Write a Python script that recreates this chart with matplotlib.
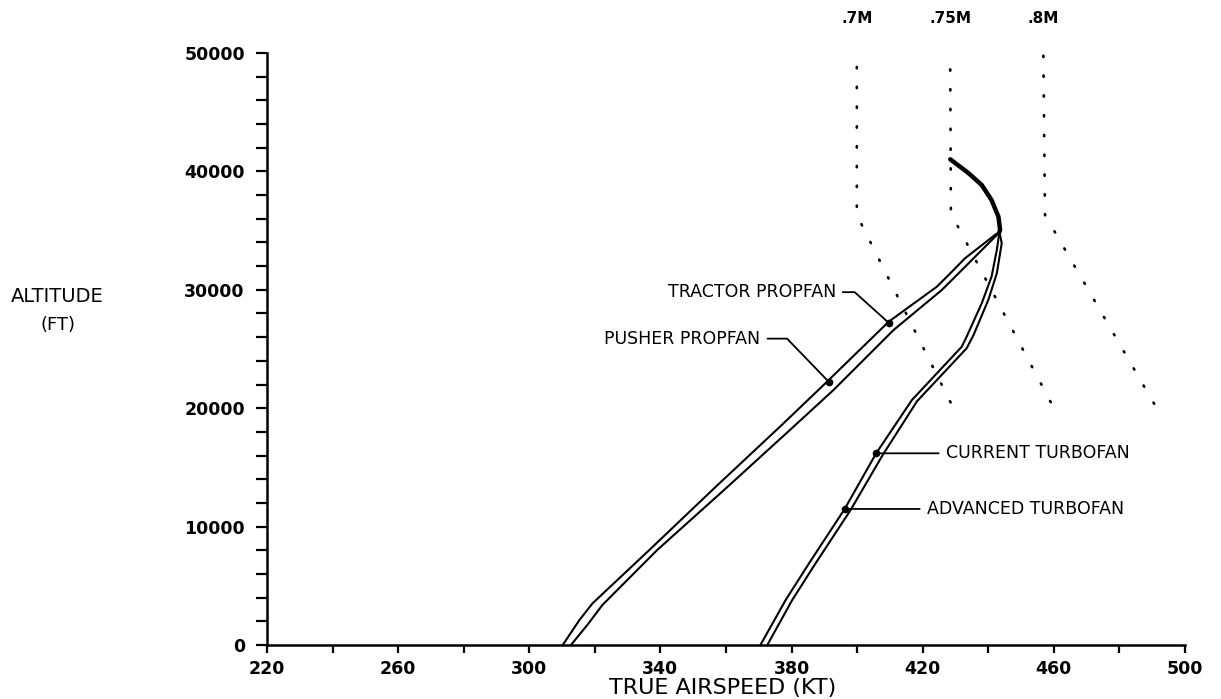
import matplotlib.pyplot as plt
from matplotlib.ticker import MultipleLocator

# propfans (true airspeed in kt, altitude in ft)
tractor_kt = [310.2, 315.3, 319.3, 336.6, 356.9, 377.0, 390.3, 409.6, 424.3, 427.9, 432.9, 442.1, 443.4]
tractor_alt = [0, 2110, 3520, 8020, 13370, 18580, 22100, 27300, 30260, 31250, 32660, 34650, 34880]
pusher_kt = [312.7, 317.7, 322.3, 339.0, 359.4, 379.5, 392.8, 411.1, 425.8, 428.9, 434.0, 442.6, 443.4]
pusher_alt = [0, 1690, 3380, 8020, 13090, 18160, 21540, 26600, 29980, 30830, 32240, 34630, 34880]

# turbofans
current_kt = [370.5, 378.2, 385.0, 396.2, 405.8, 416.7, 431.9, 433.4, 438.0, 441.0, 442.6, 443.4]
current_alt = [0, 3800, 6760, 11490, 16190, 20690, 25190, 26040, 28860, 31110, 33360, 34880]
advanced_kt = [372.6, 380.2, 387.0, 398.0, 407.8, 418.3, 433.4, 435.5, 440.0, 442.6, 444.1, 443.4]
advanced_alt = [0, 3800, 6760, 11400, 16050, 20600, 25060, 26180, 29140, 31390, 33930, 34880]

# common part above the peak
top_kt = [443.4, 443.6, 443.1, 441.0, 438.0, 433.9, 428.4]
top_alt = [34880, 35050, 36170, 37580, 38850, 39870, 41020]

# constant mach lines
mach_lbls = ['.7M', '.75M', '.8M']
mach_kt = [[399.9, 399.9, 428.9], [428.4, 428.6, 459.5], [456.8, 457.3, 490.8]]
mach_alt = [[48820, 36320, 20270], [48620, 36460, 20270], [49770, 36320, 20270]]

# labelled points
pt_lbls = ['TRACTOR PROPFAN', 'PUSHER PROPFAN', 'CURRENT TURBOFAN', 'ADVANCED TURBOFAN']
pt_kt = [409.6, 391.3, 405.8, 396.2]
pt_alt = [27220, 22240, 16190, 11490]

x_ticks = [220, 260, 300, 340, 380, 420, 460, 500]

fig = plt.figure(figsize=(12.21, 6.99), dpi=100)
ax = fig.add_axes([267 / 1221, 54 / 699, 918 / 1221, 592 / 699])

for xs, ys in [(tractor_kt, tractor_alt), (pusher_kt, pusher_alt),
               (current_kt, current_alt), (advanced_kt, advanced_alt)]:
    ax.plot(xs, ys, 'k-', lw=1.5, clip_on=False)
ax.plot(top_kt, top_alt, 'k-', lw=3.2, solid_capstyle='round')

for xs, ys, lbl in zip(mach_kt, mach_alt, mach_lbls):
    ax.plot(xs, ys, color='k', lw=1.9, ls=(0, (0.5, 7)), dash_capstyle='round')
    ax.text(xs[0], 52900, lbl, ha='center', va='center', fontsize=11,
            fontweight='bold', clip_on=False)

ax.plot(pt_kt, pt_alt, 'ko', ms=4.5)

leader = dict(arrowstyle='-', lw=1.3, color='k', shrinkA=3, shrinkB=0)
ax.annotate(pt_lbls[0], (pt_kt[0], pt_alt[0]), xytext=(-38, 22), textcoords='offset points',
            ha='right', va='center', fontsize=12.5,
            arrowprops=dict(leader, connectionstyle='angle,angleA=0,angleB=138,rad=0'))
ax.annotate(pt_lbls[1], (pt_kt[1], pt_alt[1]), xytext=(-49, 31), textcoords='offset points',
            ha='right', va='center', fontsize=12.5,
            arrowprops=dict(leader, connectionstyle='angle,angleA=0,angleB=134,rad=0'))
ax.annotate(pt_lbls[2], (pt_kt[2], pt_alt[2]), xytext=(50, 0), textcoords='offset points',
            ha='left', va='center', fontsize=12.5, arrowprops=leader)
ax.annotate(pt_lbls[3], (pt_kt[3], pt_alt[3]), xytext=(59, 0), textcoords='offset points',
            ha='left', va='center', fontsize=12.5, arrowprops=leader)

ax.set_xlim(220, 500)
ax.set_ylim(0, 50000)
ax.set_xticks(x_ticks)
ax.xaxis.set_minor_locator(MultipleLocator(20))
ax.yaxis.set_major_locator(MultipleLocator(10000))
ax.yaxis.set_minor_locator(MultipleLocator(2000))
ax.tick_params(which='both', direction='out', width=1.6, color='k')
ax.tick_params(axis='x', which='both', length=6, pad=5, labelsize=12.5)
ax.tick_params(axis='y', which='both', length=8, pad=8, labelsize=12.5)
for lbl in ax.get_xticklabels() + ax.get_yticklabels():
    lbl.set_fontweight('bold')

for side in ['top', 'right']:
    ax.spines[side].set_visible(False)
for side in ['left', 'bottom']:
    ax.spines[side].set_linewidth(1.8)

fig.text(723 / 1221, 1 - 688 / 699, 'TRUE AIRSPEED (KT)', ha='center', va='center', fontsize=16)
fig.text(57 / 1221, 1 - 296 / 699, 'ALTITUDE', ha='center', va='center', fontsize=14)
fig.text(58 / 1221, 1 - 325 / 699, '(FT)', ha='center', va='center', fontsize=13)

fig.savefig('out.png', dpi=100)
